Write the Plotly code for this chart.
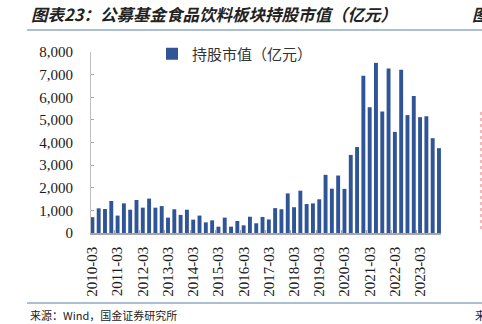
import plotly.graph_objects as go

quarters = []
for y in range(2010, 2024):
    for m in ["03", "06", "09", "12"]:
        quarters.append(f"{y}-{m}")

values = [700, 1090, 1060, 1415, 770, 1310, 1030, 1460, 1120, 1520,
          1120, 1190, 680, 1050, 800, 1030, 590, 770, 470, 560,
          280, 680, 280, 530, 340, 720, 430, 710, 600, 1100,
          1050, 1750, 1140, 1870, 1280, 1310, 1490, 2570, 1960, 2540,
          1950, 3450, 3800, 6950, 5560, 7520, 5370, 7270, 4470, 7210,
          5210, 6050, 5120, 5160, 4190, 3750]

series_name = "持股市值（亿元）"
title_text = "图表23：公募基金食品饮料板块持股市值（亿元）"
source_text = "来源：Wind，国金证券研究所"
y_ticks = [0, 1000, 2000, 3000, 4000, 5000, 6000, 7000, 8000]

W, H = 482, 324
L, R, T, B = 91, 41, 52, 91
PW, PH = W - L - R, H - T - B


def px(xp):
    return (xp - L) / PW


def py(yp):
    return (H - B - yp) / PH


fig = go.Figure()
fig.add_trace(go.Bar(x=quarters, y=values, name=series_name,
                     marker=dict(color="#2F5597", line=dict(width=0)),
                     showlegend=True))

fig.update_layout(
    width=W, height=H,
    margin=dict(l=L, r=R, t=T, b=B, pad=0),
    paper_bgcolor="white", plot_bgcolor="white",
    bargap=0.38,
    showlegend=True,
    legend=dict(x=px(152), y=py(54), xanchor="left", yanchor="middle",
                orientation="h", bgcolor="rgba(0,0,0,0)",
                font=dict(family="Noto Sans CJK SC", size=15, color="#333333"),
                itemwidth=30),
    font=dict(family="Liberation Serif", size=15, color="#1a1a1a"),
)

fig.update_xaxes(
    type="category", range=[-0.22, 55.32],
    tickmode="linear", tick0=0, dtick=4,
    tickson="boundaries",
    ticks="inside", ticklen=3, tickcolor="#A6A6A6",
    tickangle=-90, ticklabelstandoff=6,
    tickfont=dict(family="Liberation Serif", size=15, color="#1a1a1a"),
    showline=True, linecolor="#A6A6A6", linewidth=1.5,
    showgrid=False, zeroline=False,
)
fig.update_yaxes(
    range=[0, 8000], tickvals=y_ticks, tickformat=",",
    ticks="inside", ticklen=3, tickcolor="#A6A6A6",
    ticklabelstandoff=14,
    tickfont=dict(family="Liberation Serif", size=15, color="#1a1a1a"),
    showline=True, linecolor="#BFBFBF", linewidth=1,
    showgrid=False, zeroline=False,
)

# title and header line
fig.add_annotation(xref="paper", yref="paper", x=px(29), y=py(14),
                   xanchor="left", yanchor="middle",
                   text=f"<i><b>{title_text}</b></i>", showarrow=False,
                   font=dict(family="Noto Sans CJK SC", size=16.5, color="#222222"))
fig.add_annotation(xref="paper", yref="paper", x=px(470), y=py(14),
                   xanchor="left", yanchor="middle",
                   text="<i><b>图</b></i>", showarrow=False,
                   font=dict(family="Noto Sans CJK SC", size=16.5, color="#222222"))
fig.add_shape(type="line", xref="paper", yref="paper",
              x0=px(27), x1=px(482), y0=py(30), y1=py(30),
              line=dict(color="#8FAAC4", width=1.5))

# footer line and source
fig.add_shape(type="line", xref="paper", yref="paper",
              x0=px(27), x1=px(482), y0=py(303), y1=py(303),
              line=dict(color="#8FAAC4", width=1.5))
fig.add_annotation(xref="paper", yref="paper", x=px(28), y=py(315),
                   xanchor="left", yanchor="middle",
                   text=source_text, showarrow=False,
                   font=dict(family="Noto Sans CJK SC", size=11, color="#222222"))
fig.add_annotation(xref="paper", yref="paper", x=px(473), y=py(315),
                   xanchor="left", yanchor="middle",
                   text="来", showarrow=False,
                   font=dict(family="Noto Sans CJK SC", size=11, color="#222222"))

# neighbouring chart's dotted border at right edge
fig.add_shape(type="line", xref="paper", yref="paper",
              x0=px(481), x1=px(481), y0=py(112), y1=py(231),
              line=dict(color="#F2A0A0", width=1.5, dash="dot"))

fig.write_html("out.html")
